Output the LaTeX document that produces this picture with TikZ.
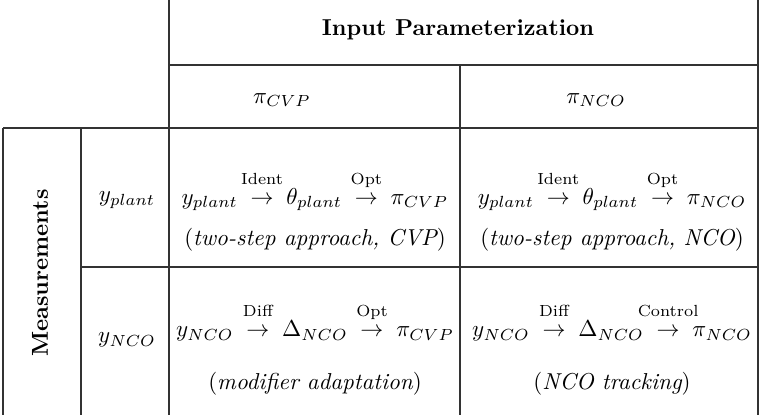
\documentclass[tikz,border=0pt]{standalone}
\usepackage{amsmath}
\begin{document}
\begin{tikzpicture}[x=0.0165cm,y=-0.0165cm]
      \tikzstyle{GRID} = [line width=0.7pt, black!80]
      \tikzstyle{CELL} = [anchor=center, align=center, inner sep=1pt, scale=1.08]
      \newcommand{\lbl}[1]{\;\overset{\raisebox{3pt}{\makebox[0pt]{\scriptsize #1}}}{\rightarrow}\;}

      \useasboundingbox (0,0) rectangle (761,415);

      %%%%% LINES
      \draw[GRID] (169,0) -- (169,415);
      \draw[GRID] (758,0) -- (758,415);
      \draw[GRID] (169,65) -- (758,65);
      \draw[GRID] (460,65) -- (460,415);
      \draw[GRID] (3,128) -- (758,128);
      \draw[GRID] (3,128) -- (3,415);
      \draw[GRID] (81,128) -- (81,415);
      \draw[GRID] (81,267) -- (758,267);

      %%%%% HEADERS
      \node[CELL](hin) at (458,30) {\bfseries Input Parameterization};
      \node[CELL](hcvp) at (282,100) {$\pi_{CVP}$};
      \node[CELL](hnco) at (596,100) {$\pi_{NCO}$};
      \node[CELL, rotate=90](hmeas) at (40,273) {\bfseries Measurements};
      \node[CELL](rplant) at (127,200) {$y_{plant}$};
      \node[CELL](rnco) at (127,340) {$y_{NCO}$};

      %%%%% CELLS
      \node[CELL](c11) at (315,191) {$y_{plant}\lbl{Ident}\theta_{plant}\lbl{Opt}\pi_{CVP}$};
      \node[CELL](c11b) at (315,240) {$(\textit{two-step approach, CVP})$};
      \node[CELL](c12) at (612,191) {$y_{plant}\lbl{Ident}\theta_{plant}\lbl{Opt}\pi_{NCO}$};
      \node[CELL](c12b) at (612,240) {$(\textit{two-step approach, NCO})$};
      \node[CELL](c21) at (315,322) {$y_{NCO}\lbl{Diff}\Delta_{NCO}\lbl{Opt}\pi_{CVP}$};
      \node[CELL](c21b) at (315,384) {$(\textit{modifier adaptation})$};
      \node[CELL](c22) at (612,322) {$y_{NCO}\lbl{Diff}\Delta_{NCO}\lbl{Control}\pi_{NCO}$};
      \node[CELL](c22b) at (612,384) {$(\textit{NCO tracking})$};
    \end{tikzpicture}
\end{document}
